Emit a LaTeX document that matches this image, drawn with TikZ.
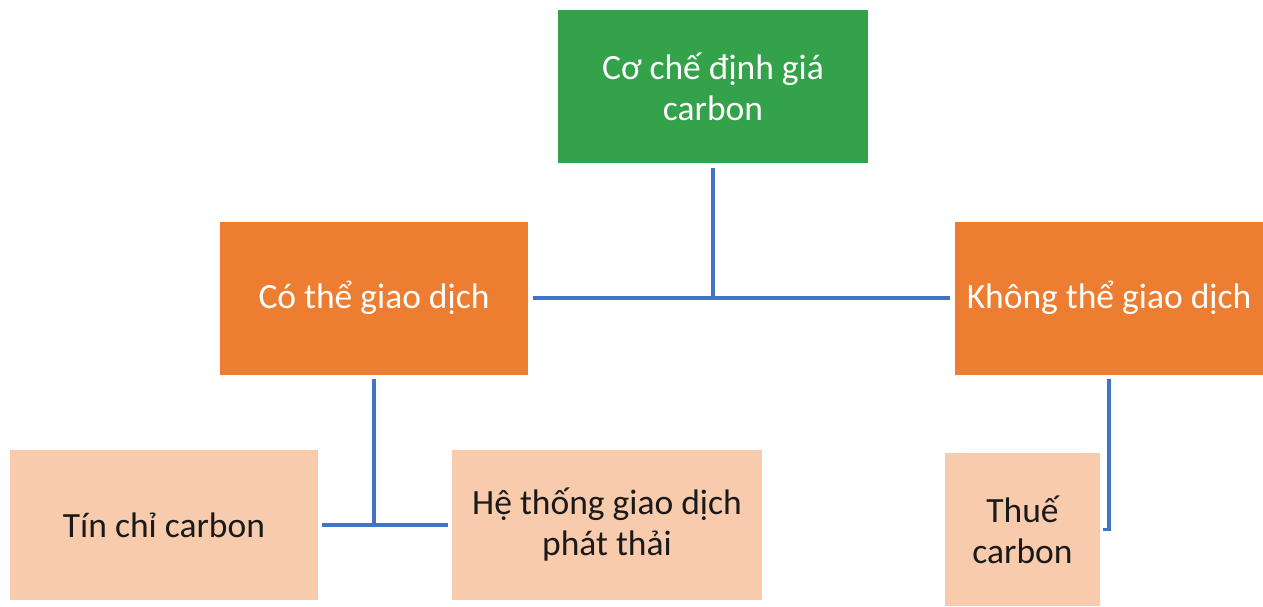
\documentclass[tikz,border=0pt]{standalone}
\usepackage{fontspec}
\setmainfont{Carlito}
\definecolor{topgreen}{HTML}{34A14B}
\definecolor{midorange}{HTML}{ED7D31}
\definecolor{peach}{HTML}{F8CBAD}
\definecolor{linkblue}{HTML}{4472C4}
\definecolor{darktext}{HTML}{1A1A1A}
\begin{document}
\begin{tikzpicture}[x=1pt,y=-1pt,
  box/.style={inner sep=0pt, align=center, font=\fontsize{35.5}{41}\selectfont},
  topbox/.style={box, fill=topgreen, text=white, minimum width=310pt, minimum height=153pt},
  midbox/.style={box, fill=midorange, text=white, minimum width=308pt, minimum height=153pt},
  leafbox/.style={box, fill=peach, text=darktext, minimum height=150pt},
  link/.style={draw=linkblue, line width=3.2pt}]
\useasboundingbox (0,0) rectangle (1263,606);
\node[topbox] (top) at (713,86.5) {Cơ chế định giá\\carbon};
\node[midbox] (L) at (374,298) {Có thể giao dịch};
\node[midbox] (R) at (1109,298) {Không thể giao dịch};
\node[leafbox, minimum width=308pt] (T1) at (164,525) {Tín chỉ carbon};
\node[leafbox, minimum width=310pt] (T2) at (607,525) {Hệ thống giao dịch\\phát thải};
\node[leafbox, minimum width=155pt, minimum height=153pt] (T3) at (1022.5,529.5) {Thuế\\carbon};
\draw[link, shorten <=5pt, shorten >=5pt] (L.east) -- (R.west);
\draw[link, shorten <=5pt] (top.south) -- (top.south |- L.east);
\draw[link, shorten <=4pt, shorten >=4pt] (T1.east) -- (T2.west);
\draw[link, shorten <=4pt] (L.south) -- (L.south |- T1.east);
\draw[link, shorten <=4pt, shorten >=3pt] (R.south) |- (T3.east);
\end{tikzpicture}
\end{document}
